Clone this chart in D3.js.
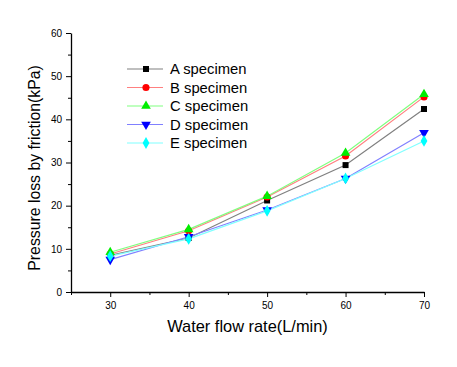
<!DOCTYPE html>
<html><head><meta charset="utf-8">
<script src="https://cdn.jsdelivr.net/npm/d3@7"></script>
<style>body{margin:0;background:#fff}svg{display:block}text{font-family:"Liberation Sans",Arial,sans-serif}</style>
</head><body><svg id="c" width="457" height="367"></svg>
<script>
const flow = [30, 40, 50, 60, 70];
const seriesNames = ["A specimen", "B specimen", "C specimen", "D specimen", "E specimen"];
const A = [8.5, 12.5, 21.2, 29.4, 42.4];
const B = [8.8, 14.2, 22.0, 31.5, 45.2];
const C = [9.2, 14.5, 22.2, 32.2, 45.8];
const D = [7.5, 12.8, 19.0, 26.3, 36.9];
const E = [8.3, 12.3, 18.8, 26.3, 35.0];
const xTicks = [30, 40, 50, 60, 70];
const yTicks = [0, 10, 20, 30, 40, 50, 60];

const lineColors = ["#808080", "#ff8080", "#80ff80", "#8080ff", "#80ffff"];
const markColors = ["#000000", "#ff0000", "#00ee00", "#0000ff", "#00ffff"];
const symbols = [d3.symbolSquare, d3.symbolCircle, d3.symbolTriangle, d3.symbolTriangle, d3.symbolDiamond];
const rotations = [0, 0, 0, 180, 0];
const sizes = [36, 40, 40, 40, 40];
const data = [A, B, C, D, E];

const svg = d3.select("#c");
const x = d3.scaleLinear().domain([25, 70]).range([71, 424]);
const y = d3.scaleLinear().domain([0, 60]).range([292, 33]);

// minor ticks
svg.append("g").attr("transform","translate(0,292)")
  .call(d3.axisBottom(x).tickValues([25,35,45,55,65]).tickSize(3).tickFormat(""))
  .call(g=>g.select(".domain").remove());
svg.append("g").attr("transform","translate(71,0)")
  .call(d3.axisLeft(y).tickValues([5,15,25,35,45,55]).tickSize(3).tickFormat(""))
  .call(g=>g.select(".domain").remove());

const xa = svg.append("g").attr("transform","translate(0,292)")
  .call(d3.axisBottom(x).tickValues(xTicks).tickSize(5).tickSizeOuter(0).tickPadding(5));
const ya = svg.append("g").attr("transform","translate(71,0)")
  .call(d3.axisLeft(y).tickValues(yTicks).tickSize(5).tickSizeOuter(0).tickPadding(4));
[xa, ya].forEach(g=>{
  g.selectAll("text").style("font-size","10px").attr("fill","#000");
  g.select(".domain").attr("stroke","#000").attr("stroke-width",1.3);
});
svg.selectAll("g line").attr("stroke","#000");

const line = d3.line().x((d,i)=>x(flow[i])).y(d=>y(d));
data.forEach((s,k)=>{
  svg.append("path").datum(s).attr("d", line).attr("fill","none")
    .attr("stroke", lineColors[k]).attr("stroke-width",1.2);
});
data.forEach((s,k)=>{
  svg.append("g").selectAll("path").data(s).join("path")
    .attr("d", d3.symbol(symbols[k], sizes[k]))
    .attr("transform",(d,i)=>`translate(${x(flow[i])},${y(d)}) rotate(${rotations[k]})`)
    .attr("fill", markColors[k]);
});

// legend
const lg = svg.append("g");
seriesNames.forEach((n,k)=>{
  const yy = 69 + k*18.5;
  lg.append("line").attr("x1",127).attr("x2",163).attr("y1",yy).attr("y2",yy)
    .attr("stroke", lineColors[k]).attr("stroke-width",1.2);
  lg.append("path").attr("d", d3.symbol(symbols[k], sizes[k]))
    .attr("transform",`translate(146,${yy}) rotate(${rotations[k]})`).attr("fill", markColors[k]);
  lg.append("text").attr("x",170).attr("y",yy+5).style("font-size","14.8px").text(n);
});

svg.append("text").attr("x", 247.5).attr("y", 332).attr("text-anchor","middle")
  .style("font-size","16.4px").text("Water flow rate(L/min)");
svg.append("text").attr("transform","translate(40,168) rotate(-90)").attr("text-anchor","middle")
  .style("font-size","15.8px").text("Pressure loss by friction(kPa)");
</script></body></html>
